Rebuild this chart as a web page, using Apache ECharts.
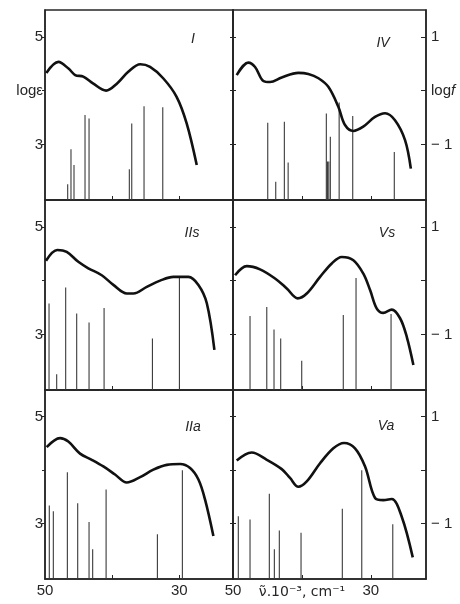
<!DOCTYPE html>
<html><head><meta charset="utf-8">
<script src="https://cdn.jsdelivr.net/npm/echarts@6/dist/echarts.min.js"></script>
<style>html,body{margin:0;padding:0;background:#fff}#c{width:460px;height:604px}</style>
</head><body><div id="c"></div>
<script>
// ---- axis values ----
const X_MIN = 22, X_MAX = 50;           // wavenumber x10^-3 cm^-1 (reversed)
const EPS_MIN = 1.965, EPS_MAX = 5.5;   // log epsilon
const LOGF_SHIFT = 4;                   // log f = log eps - 4
const xTickValues = [40, 30];
const xLabelValues = [50, 30];
const epsTickValues = [3, 4, 5];
const epsLabelValues = [3, 5];
const fTickValues = [-1, 0, 1];
const fLabelValues = [-1, 1];
const panelNames = ['I', 'IV', 'IIs', 'Vs', 'IIa', 'Va'];
const xAxisTitle = 'ν̃.10⁻³, cm⁻¹';

// ---- curves: [wavenumber, log eps] ----
const curveI = [[49.8,4.33],[48.0,4.535],[46.5,4.41],[45.5,4.29],[44.3,4.26],[42.8,4.13],[40.9,4.0],[39.3,4.13],[37.6,4.35],[35.8,4.49],[34.35,4.44],[32.4,4.23],[30.4,3.885],[28.9,3.39],[27.4,2.615]];
const curveIV = [[49.46,4.29],[47.78,4.52],[46.8,4.44],[45.6,4.18],[44.63,4.16],[42.93,4.245],[40.52,4.33],[39.07,4.31],[37.6,4.23],[36.17,4.07],[34.72,3.70],[33.75,3.36],[32.54,3.25],[31.1,3.33],[29.4,3.51],[27.94,3.58],[26.5,3.45],[25.04,3.08],[24.2,2.55]];
const curveIIs = [[49.85,4.37],[48.17,4.57],[46.77,4.535],[45.04,4.35],[43.55,4.23],[41.55,4.10],[39.82,3.92],[37.82,3.76],[36.84,3.76],[34.84,3.885],[32.86,4.0],[30.88,4.07],[28.64,4.07],[27.15,3.92],[25.9,3.58],[24.77,2.71]];
const curveVs = [[49.7,4.10],[48.0,4.27],[46.08,4.21],[43.9,4.04],[42.2,3.855],[40.6,3.67],[39.3,3.76],[37.37,4.07],[35.67,4.32],[34.22,4.44],[32.54,4.38],[31.09,4.13],[30.1,3.82],[29.14,3.48],[28.19,3.40],[26.97,3.46],[25.76,3.30],[24.79,2.955],[23.83,2.43]];
const curveIIa = [[49.75,4.43],[47.76,4.60],[46.53,4.535],[44.78,4.31],[43.04,4.195],[41.31,4.07],[39.57,3.92],[37.82,3.77],[35.84,3.87],[33.86,4.01],[31.86,4.10],[29.88,4.115],[28.39,4.04],[27.15,3.825],[26.16,3.45],[24.92,2.77]];
const curveVa = [[49.46,4.18],[47.29,4.33],[45.1,4.195],[42.93,4.02],[41.73,3.855],[40.52,3.69],[39.3,3.79],[37.37,4.13],[35.44,4.41],[33.89,4.51],[32.3,4.41],[30.84,4.07],[29.39,3.48],[28.19,3.44],[26.97,3.46],[25.52,3.13],[23.92,2.37]];

// ---- stick lines: [wavenumber, log eps] ----
const sticksI = [[46.62,2.26],[46.13,2.91],[45.68,2.615],[44.04,3.545],[43.44,3.48],[37.44,2.535],[37.08,3.39],[35.25,3.71],[32.46,3.69]];
const sticksIV = [[44.96,3.40],[43.8,2.305],[42.55,3.42],[42.0,2.665],[36.46,3.575],[36.3,2.68],[36.1,2.68],[35.88,3.14],[34.6,3.78],[32.63,3.53],[26.6,2.86]];
const sticksIIs = [[49.4,3.576],[48.26,2.26],[46.92,3.87],[45.28,3.39],[43.44,3.22],[41.2,3.49],[34.0,2.925],[29.98,4.08]];
const sticksVs = [[47.53,3.34],[45.1,3.51],[44.05,3.09],[43.08,2.925],[40.03,2.51],[34.0,3.36],[32.15,4.05],[27.07,3.38]];
const sticksIIa = [[49.36,3.34],[48.76,3.23],[46.67,3.96],[45.13,3.38],[43.44,3.03],[42.9,2.52],[40.9,3.64],[33.26,2.80],[29.54,4.0]];
const sticksVa = [[49.23,3.14],[47.53,3.08],[44.73,3.56],[44.0,2.52],[43.28,2.87],[40.13,2.83],[34.14,3.28],[31.32,4.0],[26.82,2.99]];

const curves = [curveI, curveIV, curveIIs, curveVs, curveIIa, curveVa];
const sticks = [sticksI, sticksIV, sticksIIs, sticksVs, sticksIIa, sticksVa];

// ---- layout / style ----
const INK = '#262626';
const colLeft = [45, 233], colWidth = [188, 193];
const rowTop = [10, 200, 390], rowHeight = [190, 190, 189];
const labelPos = [[193,39],[383,43],[192,233],[387,233],[193,427],[386,426]];
const tickFont = {fontFamily: 'Liberation Sans, Arial, sans-serif', fontSize: 15, color: INK};

const grids = [], xAxes = [], yAxes = [], series = [], graphics = [];
for (let i = 0; i < 6; i++) {
  const col = i % 2, row = Math.floor(i / 2);
  grids.push({left: colLeft[col], top: rowTop[row], width: colWidth[col], height: rowHeight[row],
    show: true, borderColor: INK, borderWidth: 1.5, backgroundColor: 'transparent'});
  xAxes.push({gridIndex: i, type: 'value', min: X_MIN, max: X_MAX, inverse: true, position: 'bottom',
    axisLine: {show: true, onZero: false, lineStyle: {color: INK, width: 1.5}},
    axisTick: {show: true, inside: true, length: 4, customValues: xTickValues, lineStyle: {color: INK, width: 1}},
    axisLabel: {show: row === 2, customValues: xLabelValues, margin: 4, ...tickFont},
    splitLine: {show: false}});
  const yl = 2 * i;
  if (col === 0) {
    yAxes.push({gridIndex: i, type: 'value', position: 'left', min: EPS_MIN, max: EPS_MAX,
      axisLine: {show: true, onZero: false, lineStyle: {color: INK, width: 1.5}},
      axisTick: {show: true, inside: false, length: 3, customValues: epsTickValues, lineStyle: {color: INK}},
      axisLabel: {show: true, customValues: row === 0 ? [3, 4, 5] : epsLabelValues, margin: 2,
        formatter: v => (v === 4 ? 'logε' : String(v)), ...tickFont},
      splitLine: {show: false}});
    yAxes.push({gridIndex: i, type: 'value', position: 'right', min: EPS_MIN, max: EPS_MAX,
      axisLine: {show: true, onZero: false, lineStyle: {color: INK, width: 1.5}},
      axisTick: {show: true, inside: true, length: 3, customValues: epsTickValues, lineStyle: {color: INK}},
      axisLabel: {show: false}, splitLine: {show: false}});
  } else {
    yAxes.push({gridIndex: i, type: 'value', position: 'left', min: EPS_MIN, max: EPS_MAX,
      axisLine: {show: true, onZero: false, lineStyle: {color: INK, width: 1.5}},
      axisTick: {show: true, inside: true, length: 3, customValues: epsTickValues, lineStyle: {color: INK}},
      axisLabel: {show: false}, splitLine: {show: false}});
    yAxes.push({gridIndex: i, type: 'value', position: 'right', min: EPS_MIN - LOGF_SHIFT, max: EPS_MAX - LOGF_SHIFT,
      axisLine: {show: true, onZero: false, lineStyle: {color: INK, width: 1.5}},
      axisTick: {show: true, inside: true, length: 5, customValues: fTickValues, lineStyle: {color: INK}},
      axisLabel: {show: true, customValues: row === 0 ? [-1, 0, 1] : fLabelValues, margin: 5,
        formatter: v => (v === 0 ? '{a|log}{b|f}' : (v < 0 ? '− ' + Math.abs(v) : String(v))),
        rich: {a: {...tickFont}, b: {...tickFont, fontStyle: 'italic'}}, ...tickFont},
      splitLine: {show: false}});
  }
  series.push({type: 'custom', xAxisIndex: i, yAxisIndex: yl, data: sticks[i], silent: true,
    renderItem: (params, api) => {
      const top = api.coord([api.value(0), api.value(1)]);
      const bot = api.coord([api.value(0), EPS_MIN]);
      return {type: 'line', shape: {x1: top[0], y1: top[1], x2: bot[0], y2: bot[1]},
        style: {stroke: '#3a3a3a', lineWidth: 1.1}};
    }});
  series.push({type: 'line', xAxisIndex: i, yAxisIndex: yl, data: curves[i], smooth: 0.35,
    showSymbol: false, symbol: 'none', silent: true,
    lineStyle: {color: '#111', width: 2.6}});
  graphics.push({type: 'text', x: labelPos[i][0], y: labelPos[i][1], silent: true,
    style: {text: panelNames[i], fontSize: 14, fontStyle: 'italic', fontFamily: 'Liberation Sans, Arial, sans-serif',
      fill: INK, align: 'center', verticalAlign: 'middle'}});
}
graphics.push({type: 'text', x: 302, y: 592, silent: true,
  style: {text: xAxisTitle, fontSize: 14, fontFamily: 'DejaVu Sans, sans-serif', fill: INK,
    align: 'center', verticalAlign: 'middle'}});

const chart = echarts.init(document.getElementById('c'), null, {renderer: 'canvas'});
chart.setOption({
  animation: false,
  backgroundColor: '#fff',
  grid: grids, xAxis: xAxes, yAxis: yAxes, series: series, graphic: graphics
});
</script></body></html>
